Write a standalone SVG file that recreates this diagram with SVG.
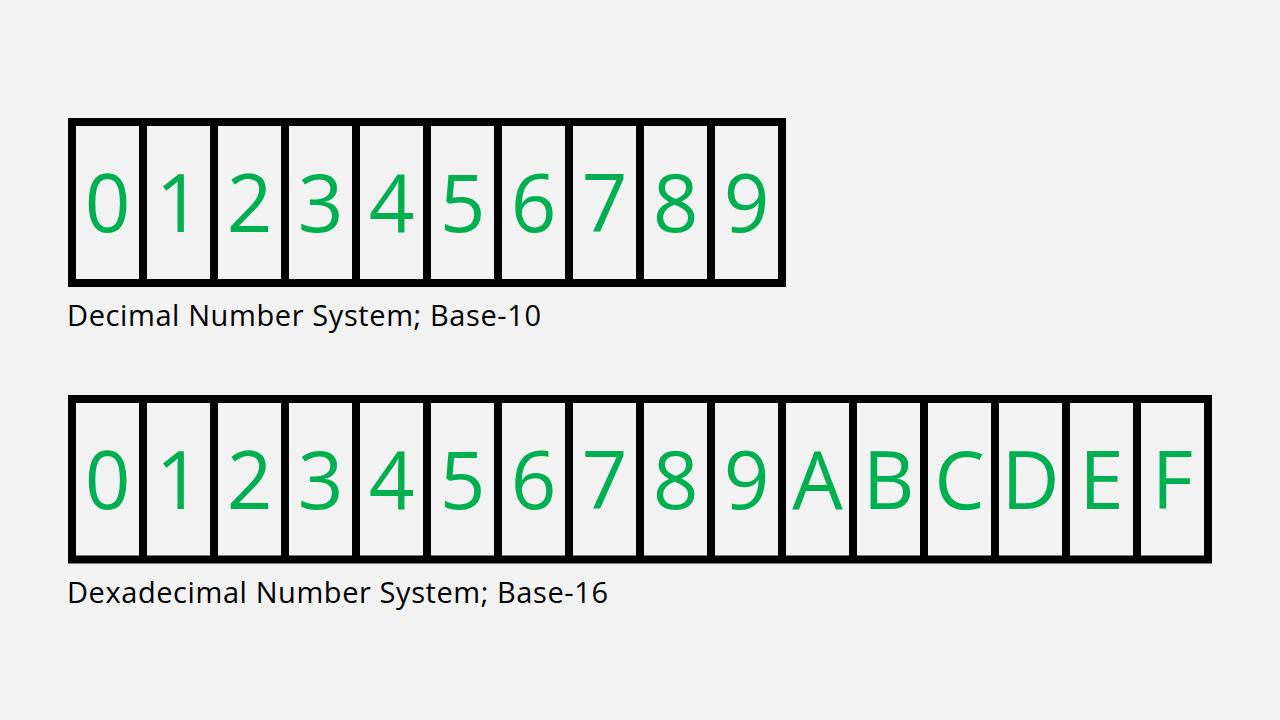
<svg xmlns="http://www.w3.org/2000/svg" width="1280" height="720" viewBox="0 0 1280 720">
<style>
.box{fill:none;stroke:#000;stroke-width:8}
.sep{stroke:#000;stroke-width:8}
.dig{font-family:"Open Sans","Noto Sans",sans-serif;font-size:80px;fill:#00b050;text-anchor:middle}
.lbl{font-family:"Open Sans","Noto Sans",sans-serif;font-size:29px;fill:#000}
</style>
<rect width="1280" height="720" fill="#f2f2f2"/>
<g id="decimal">
<rect class="box" x="72" y="122" width="710" height="161"/>
<path class="sep" d="M143 122V283M214 122V283M285 122V283M356 122V283M427 122V283M498 122V283M569 122V283M640 122V283M711 122V283"/>
<g class="dig">
<text x="107.5" y="232">0</text><text x="178.5" y="232">1</text><text x="249.5" y="232">2</text><text x="320.5" y="232">3</text><text x="391.5" y="232">4</text><text x="462.5" y="232">5</text><text x="533.5" y="232">6</text><text x="604.5" y="232">7</text><text x="675.5" y="232">8</text><text x="746.5" y="232">9</text>
</g>
<text class="lbl" x="67" y="326" textLength="474">Decimal Number System; Base-10</text>
</g>
<g id="hexadecimal">
<rect class="box" x="72" y="399" width="1136" height="160.5"/>
<path class="sep" d="M143 399V559.5M214 399V559.5M285 399V559.5M356 399V559.5M427 399V559.5M498 399V559.5M569 399V559.5M640 399V559.5M711 399V559.5M782 399V559.5M853 399V559.5M924 399V559.5M995 399V559.5M1066 399V559.5M1137 399V559.5"/>
<g class="dig">
<text x="107.5" y="509">0</text><text x="178.5" y="509">1</text><text x="249.5" y="509">2</text><text x="320.5" y="509">3</text><text x="391.5" y="509">4</text><text x="462.5" y="509">5</text><text x="533.5" y="509">6</text><text x="604.5" y="509">7</text><text x="675.5" y="509">8</text><text x="746.5" y="509">9</text><text x="817.5" y="509">A</text><text x="888.5" y="509">B</text><text x="959.5" y="509">C</text><text x="1030.5" y="509">D</text><text x="1101.5" y="509">E</text><text x="1172.5" y="509">F</text>
</g>
<text class="lbl" x="67" y="603" textLength="541">Dexadecimal Number System; Base-16</text>
</g>
</svg>
